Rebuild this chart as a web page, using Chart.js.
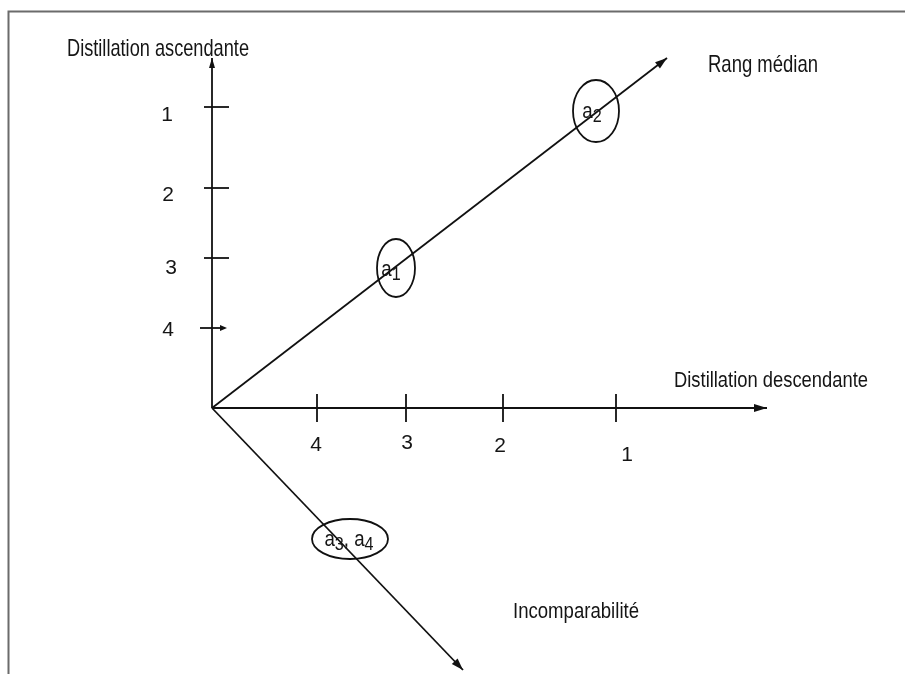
<!DOCTYPE html>
<html><head><meta charset="utf-8">
<script src="https://cdn.jsdelivr.net/npm/chart.js@4/dist/chart.umd.min.js"></script>
<style>html,body{margin:0;padding:0;background:#fff;}#wrap{width:905px;height:674px;position:relative;}</style>
</head><body><div id="wrap"><canvas id="c"></canvas></div>
<script>
// ---- Data (diagram units: origin at the axes' intersection, right/up positive) ----
const yAxisTitle = 'Distillation ascendante';
const xAxisTitle = 'Distillation descendante';
const medianTitle = 'Rang médian';
const incompTitle = 'Incomparabilité';
const xTickLabels = ['4', '3', '2', '1'];
const xTickValues = [105, 194, 291, 404];
const yTickLabels = ['1', '2', '3', '4'];
const yTickValues = [301, 220, 150, 80];
const axisEndX = 555;
const axisEndY = 350;
const medianEnd = [455, 350];
const incompEnd = [251, -262];
const altLabels = ['a1', 'a2', 'a3, a4'];
const altX = [184, 384, 138];
const altY = [140, 297, -131];

// ---- Layout / style ----
const FONT = '"Liberation Sans Narrow", "Liberation Sans", Arial, sans-serif';
const LINE = '#111';
const TEXT = '#151515';
const LW = 1.8;
const ellipseR = [[19, 29], [23, 31], [38, 20]];
const altNudge = [[-5, 3], [-4, 2], [-1, 2]];
const titles = [
  { t: yAxisTitle, x: -145, y: 352, size: 24, w: 182 },
  { t: medianTitle, x: 496, y: 336, size: 24, w: 110 },
  { t: xAxisTitle, x: 462, y: 21, size: 22, w: 194 },
  { t: incompTitle, x: 301, y: -210, size: 22, w: 126 }
];
const yLabelNudge = [[-45, 8], [-44, 7], [-41, 10], [-44, 2]];
const xLabelNudge = [[-1, -37], [1, -35], [-3, -38], [11, -47]];

const seg = (a, b, label) => ({
  label, data: [{ x: a[0], y: a[1] }, { x: b[0], y: b[1] }],
  showLine: true, borderColor: LINE, borderWidth: LW, pointRadius: 0, fill: false
});

const datasets = [
  seg([0, 0], [axisEndX, 0], xAxisTitle),
  seg([0, 0], [0, axisEndY], yAxisTitle),
  seg([0, 0], medianEnd, medianTitle),
  seg([0, 0], incompEnd, incompTitle)
];
xTickValues.forEach((v, i) => datasets.push(seg([v, -14], [v, 14], 'x' + xTickLabels[i])));
yTickValues.forEach((v, i) => datasets.push(seg([i === 3 ? -12 : -8, v], [i === 3 ? 12 : 17, v], 'y' + yTickLabels[i])));

function arrow(ctx, x1, y1, x2, y2, len, half) {
  const a = Math.atan2(y2 - y1, x2 - x1);
  ctx.save();
  ctx.translate(x2, y2); ctx.rotate(a);
  ctx.beginPath(); ctx.moveTo(0, 0); ctx.lineTo(-len, -half); ctx.lineTo(-len, half); ctx.closePath();
  ctx.fillStyle = LINE; ctx.fill();
  ctx.restore();
}

function fitText(ctx, str, x, y, size, w) {
  ctx.save();
  ctx.font = size + 'px ' + FONT;
  const m = ctx.measureText(str).width;
  const s = w / m;
  ctx.translate(x, y); ctx.scale(s, 1);
  ctx.fillStyle = TEXT; ctx.textBaseline = 'alphabetic'; ctx.textAlign = 'left';
  ctx.fillText(str, 0, 0);
  ctx.restore();
}

function altText(ctx, str, cx, cy) {
  const parts = [];
  for (const ch of str) parts.push({ t: ch, sub: /[0-9]/.test(ch) });
  const big = '22px ' + FONT, small = '19px ' + FONT;
  let total = 0;
  parts.forEach(p => { ctx.font = p.sub ? small : big; p.w = ctx.measureText(p.t).width * 0.85; total += p.w; });
  let x = cx - total / 2;
  ctx.save(); ctx.fillStyle = TEXT; ctx.textBaseline = 'alphabetic';
  parts.forEach(p => {
    ctx.font = p.sub ? small : big;
    ctx.save(); ctx.translate(x, cy + (p.sub ? 9 : 5)); ctx.scale(0.85, 1);
    ctx.fillText(p.t, 0, 0); ctx.restore();
    x += p.w;
  });
  ctx.restore();
}

const decor = {
  id: 'decor',
  afterDatasetsDraw(chart) {
    const ctx = chart.ctx, xs = chart.scales.x, ys = chart.scales.y;
    const P = (x, y) => [xs.getPixelForValue(x), ys.getPixelForValue(y)];
    ctx.save(); ctx.strokeStyle = '#6b6b6b'; ctx.lineWidth = 2;
    ctx.beginPath(); ctx.moveTo(8.5, 674); ctx.lineTo(8.5, 11.5); ctx.lineTo(905, 11.5); ctx.stroke(); ctx.restore();
    const o = P(0, 0);
    let e = P(axisEndX, 0); arrow(ctx, o[0], o[1], e[0], e[1], 13, 4);
    e = P(0, axisEndY); arrow(ctx, o[0], o[1], e[0], e[1], 10, 3);
    e = P(medianEnd[0], medianEnd[1]); arrow(ctx, o[0], o[1], e[0], e[1], 12, 4);
    e = P(incompEnd[0], incompEnd[1]); arrow(ctx, o[0], o[1], e[0], e[1], 12, 4);
    const t4a = P(-12, yTickValues[3]), t4b = P(12, yTickValues[3]);
    arrow(ctx, t4a[0], t4a[1], t4b[0] + 3, t4b[1], 7, 3);
    altLabels.forEach((lab, i) => {
      const c = P(altX[i], altY[i]);
      ctx.save(); ctx.strokeStyle = LINE; ctx.lineWidth = LW;
      ctx.beginPath(); ctx.ellipse(c[0], c[1], ellipseR[i][0], ellipseR[i][1], 0, 0, Math.PI * 2); ctx.stroke(); ctx.restore();
      altText(ctx, lab, c[0] + altNudge[i][0], c[1] + altNudge[i][1]);
    });
    ctx.save(); ctx.fillStyle = TEXT; ctx.font = '21px ' + FONT; ctx.textAlign = 'center'; ctx.textBaseline = 'middle';
    yTickLabels.forEach((l, i) => { const p = P(0, yTickValues[i]); ctx.fillText(l, p[0] + yLabelNudge[i][0], p[1] + yLabelNudge[i][1]); });
    xTickLabels.forEach((l, i) => { const p = P(xTickValues[i], 0); ctx.fillText(l, p[0] + xLabelNudge[i][0], p[1] - xLabelNudge[i][1]); });
    ctx.restore();
    titles.forEach(t => { const p = P(t.x, t.y); fitText(ctx, t.t, p[0], p[1], t.size, t.w); });
  }
};

new Chart(document.getElementById('c'), {
  type: 'scatter',
  data: { datasets },
  options: {
    responsive: true, maintainAspectRatio: false, animation: false, events: [],
    layout: { padding: 0 },
    plugins: { legend: { display: false }, tooltip: { enabled: false } },
    scales: {
      x: { type: 'linear', display: false, min: -212, max: 693 },
      y: { type: 'linear', display: false, min: -266, max: 408 }
    },
    elements: { line: { tension: 0 } }
  },
  plugins: [decor]
});
</script></body></html>
